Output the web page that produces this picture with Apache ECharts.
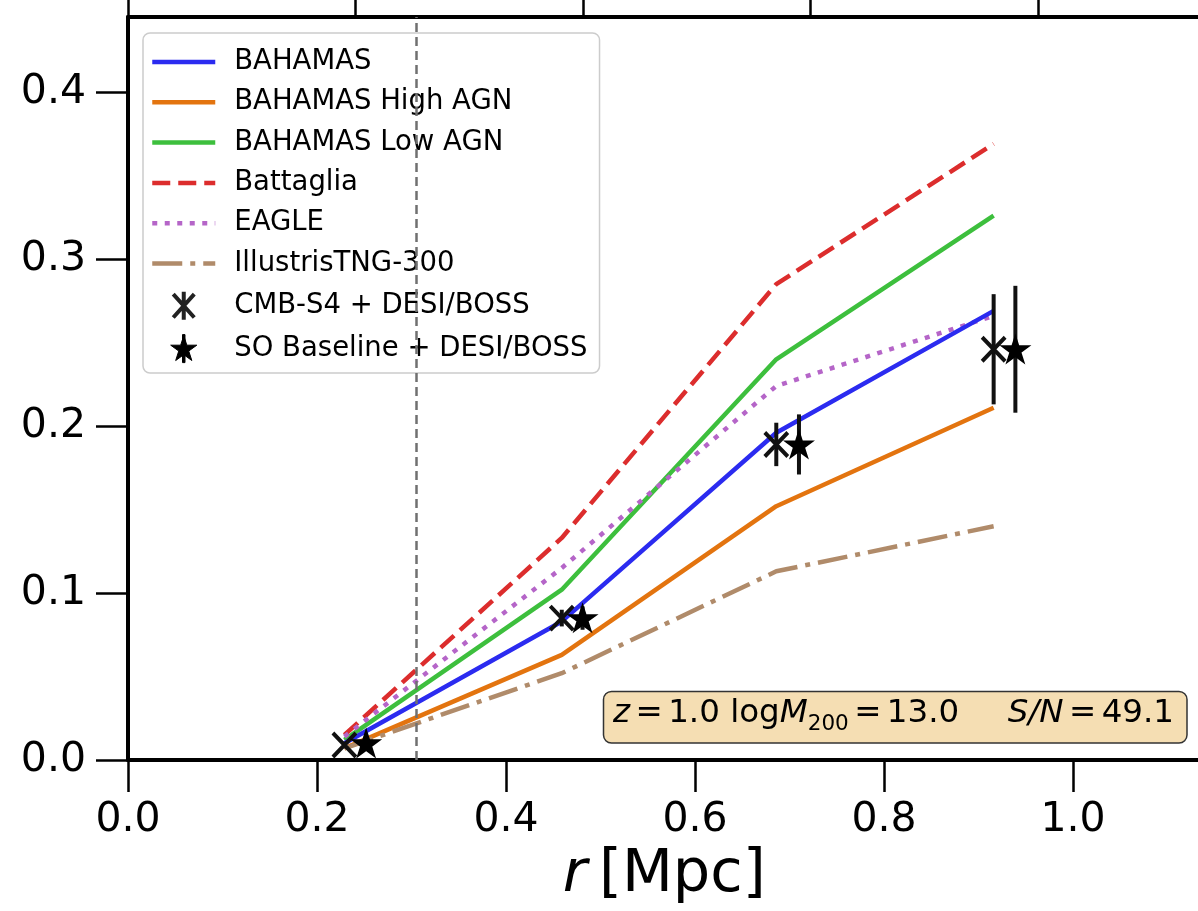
<!DOCTYPE html>
<html>
<head>
<meta charset="utf-8">
<script src="https://cdn.jsdelivr.net/npm/echarts@6/dist/echarts.min.js"></script>
<style>
html,body{margin:0;padding:0;background:#fff;}
#chart{width:1198px;height:911px;}
</style>
</head>
<body>
<div id="chart"></div>
<script>
// ---------------- data ----------------
const rModel    = [0.229, 0.459, 0.686, 0.916];
const bahamas   = [0.010, 0.083, 0.196, 0.269];
const highAGN   = [0.007, 0.063, 0.152, 0.211];
const lowAGN    = [0.012, 0.102, 0.240, 0.326];
const battaglia = [0.015, 0.133, 0.285, 0.369];
const eagle     = [0.014, 0.115, 0.224, 0.266];
const tng       = [0.007, 0.052, 0.113, 0.140];

const rS4   = [0.229, 0.459, 0.686, 0.916];
const s4Val = [0.009, 0.085, 0.189, 0.246];
const s4Err = [0.002, 0.005, 0.013, 0.033];

const rSO   = [0.252, 0.481, 0.710, 0.939];
const soVal = [0.010, 0.085, 0.189, 0.246];
const soErr = [0.003, 0.007, 0.018, 0.038];

const xTicks   = [0.0, 0.2, 0.4, 0.6, 0.8, 1.0];
const yTicks   = [0.0, 0.1, 0.2, 0.3, 0.4];
const topTicks = [0.0, 0.2407, 0.4815, 0.7222, 0.963];
const vlineX   = [0.3048];

const names = ['BAHAMAS', 'BAHAMAS High AGN', 'BAHAMAS Low AGN', 'Battaglia', 'EAGLE',
               'IllustrisTNG-300', 'CMB-S4 + DESI/BOSS', 'SO Baseline + DESI/BOSS'];
// ---------------------------------------

const FONT = 'DejaVu Sans';
const X_PATH = 'path://M0,0L9,10M9,0L0,10';
const X_LEG_PATH = 'path://M0,0L9,10M9,0L0,10M4.5,-1L4.5,11';
const STAR_PATH = 'path://M50,0L61.23,34.55L97.55,34.55L68.17,55.9L79.39,90.45L50,69.1L20.61,90.45L31.83,55.9L2.45,34.55L38.77,34.55Z';
const STAR_LEG_PATH = 'path://M50,0L61.23,34.55L97.55,34.55L68.17,55.9L79.39,90.45L50,69.1L20.61,90.45L31.83,55.9L2.45,34.55L38.77,34.55ZM45.5,-4L54.5,-4L54.5,98L45.5,98Z';

const zip = (xs, ys) => xs.map((x, i) => [x, ys[i]]);
const zip3 = (xs, ys, es) => xs.map((x, i) => [x, ys[i], es[i]]);

function lineSeries(name, ys, color, type, z) {
  return {
    name, type: 'line', data: zip(rModel, ys), symbol: 'none', showSymbol: false, z: z || 2,
    lineStyle: { color, width: 4.5, type: type || 'solid', cap: 'butt' },
    itemStyle: { color }, animation: false, silent: true
  };
}

function errSeries(xs, ys, es) {
  return {
    type: 'custom', data: zip3(xs, ys, es), z: 4, silent: true,
    encode: { x: 0, y: 1 },
    renderItem: function (params, api) {
      const x = api.value(0), y = api.value(1), e = api.value(2);
      const p1 = api.coord([x, y - e]);
      const p2 = api.coord([x, y + e]);
      return { type: 'line', shape: { x1: p1[0], y1: p1[1], x2: p2[0], y2: p2[1] },
               style: { stroke: '#111', lineWidth: 4 } };
    }
  };
}

const chart = echarts.init(document.getElementById('chart'), null, { renderer: 'canvas' });

const SP = '\u2006';
const hideSym = { opacity: 0 };
const legLine = { width: 4.5 };
const option = {
  animation: false,
  backgroundColor: '#ffffff',
  textStyle: { fontFamily: FONT },
  grid: { left: 128, top: 17, width: 1072.6, height: 743, outerBoundsMode: 'none', containLabel: false },
  xAxis: [{
    type: 'value', position: 'bottom', min: 0, max: 1.135,
    name: '{i|r}{n|\u2009[Mpc]}', nameLocation: 'middle', nameGap: 86,
    nameTextStyle: { fontSize: 59, color: '#000', fontFamily: FONT,
      rich: { i: { fontSize: 59, fontStyle: 'italic', fontFamily: FONT, color: '#000' },
              n: { fontSize: 59, fontFamily: FONT, color: '#000' } } },
    axisLine: { show: true, onZero: false, lineStyle: { color: '#000', width: 4 } },
    axisTick: { show: true, length: 32, lineStyle: { color: '#000', width: 2.5 }, customValues: xTicks },
    axisLabel: { show: true, fontSize: 41, color: '#000', fontFamily: FONT, margin: 40, lineHeight: 41,
      customValues: xTicks, formatter: v => v.toFixed(1) },
    splitLine: { show: false }
  }, {
    type: 'value', position: 'top', min: 0, max: 1.135,
    axisLine: { show: true, onZero: false, lineStyle: { color: '#000', width: 4 } },
    axisTick: { show: true, length: 30, lineStyle: { color: '#000', width: 2.5 }, customValues: topTicks },
    axisLabel: { show: false },
    splitLine: { show: false }
  }],
  yAxis: [{
    type: 'value', min: 0, max: 0.445,
    axisLine: { show: true, onZero: false, lineStyle: { color: '#000', width: 4 } },
    axisTick: { show: true, length: 32, lineStyle: { color: '#000', width: 2.5 }, customValues: yTicks },
    axisLabel: { show: true, fontSize: 41, color: '#000', fontFamily: FONT, margin: 42,
      customValues: yTicks, formatter: v => v.toFixed(1) },
    splitLine: { show: false }
  }],
  legend: {
    orient: 'vertical', left: 143, top: 33,
    padding: [15, 12, 10, 7], itemGap: 12.3, itemWidth: 63, itemHeight: 28,
    backgroundColor: 'rgba(255,255,255,0.8)', borderColor: '#cccccc', borderWidth: 1.5, borderRadius: 7,
    textStyle: { fontSize: 27.5, color: '#000', fontFamily: FONT, lineHeight: 28, padding: [0, 0, 0, 14] },
    lineStyle: { width: 4.5 },
    selectedMode: false,
    data: [
      { name: names[0], itemStyle: hideSym, lineStyle: legLine },
      { name: names[1], itemStyle: hideSym, lineStyle: legLine },
      { name: names[2], itemStyle: hideSym, lineStyle: legLine },
      { name: names[3], itemStyle: hideSym, lineStyle: legLine },
      { name: names[4], itemStyle: hideSym, lineStyle: legLine },
      { name: names[5], itemStyle: hideSym, lineStyle: legLine },
      { name: names[6], icon: X_LEG_PATH, itemStyle: { color: '#222', borderColor: '#222', borderWidth: 4 } },
      { name: names[7], icon: STAR_LEG_PATH, itemStyle: { color: '#000', borderColor: '#000', borderWidth: 1 } }
    ]
  },
  series: [
    Object.assign(lineSeries(names[0], bahamas, '#2b2bf0', 'solid', 3), {
      markLine: {
        silent: true, symbol: ['none', 'none'], label: { show: false }, animation: false, precision: 4,
        lineStyle: { color: '#707070', width: 2.5, type: [9, 5] },
        data: vlineX.map(v => ({ xAxis: v }))
      }
    }),
    lineSeries(names[1], highAGN, '#e3740f'),
    lineSeries(names[2], lowAGN, '#3dbf3d'),
    lineSeries(names[3], battaglia, '#dc2d2d', [18, 8]),
    lineSeries(names[4], eagle, '#b565c8', [5, 7.5]),
    lineSeries(names[5], tng, '#b08b6a', [30, 8, 5, 8]),
    errSeries(rS4, s4Val, s4Err),
    errSeries(rSO, soVal, soErr),
    {
      name: names[6], type: 'scatter', data: zip(rS4, s4Val), z: 5, silent: true,
      symbol: X_PATH, symbolSize: [23, 24],
      itemStyle: { color: '#111', borderColor: '#111', borderWidth: 4, opacity: 1 }
    },
    {
      name: names[7], type: 'scatter', data: zip(rSO, soVal), z: 5, silent: true,
      symbol: STAR_PATH, symbolSize: [26, 25],
      itemStyle: { color: '#000', borderColor: '#000', borderWidth: 2, opacity: 1 }
    }
  ],
  graphic: [
    { type: 'rect', z: 20, silent: true,
      shape: { x: 603.5, y: 691.5, width: 583.5, height: 51.5, r: 8 },
      style: { fill: '#f5deb3', stroke: '#333', lineWidth: 1.5 } },
    { type: 'text', z: 21, silent: true,
      style: {
        x: 613, y: 713.5, textAlign: 'left', textVerticalAlign: 'middle',
        text: '{i|z}{n|' + SP + '=' + SP + '1.0 log}{i|M}{s|200}{n|' + SP + '=' + SP + '13.0}',
        rich: {
          n: { fontSize: 32.5, fontFamily: FONT, fill: '#000', lineHeight: 44 },
          i: { fontSize: 32.5, fontFamily: FONT, fontStyle: 'italic', fill: '#000', lineHeight: 44 },
          s: { fontSize: 21.5, fontFamily: FONT, fill: '#000', lineHeight: 21, verticalAlign: 'bottom' }
        }
      } },
    { type: 'text', z: 21, silent: true,
      style: {
        x: 1174, y: 713.5, textAlign: 'right', textVerticalAlign: 'middle',
        text: '{i|S/N}{n|' + SP + '=' + SP + '49.1}',
        rich: {
          n: { fontSize: 32.5, fontFamily: FONT, fill: '#000', lineHeight: 44 },
          i: { fontSize: 32.5, fontFamily: FONT, fontStyle: 'italic', fill: '#000', lineHeight: 44 }
        }
      } }
  ]
};

chart.setOption(option);
</script>
</body>
</html>
